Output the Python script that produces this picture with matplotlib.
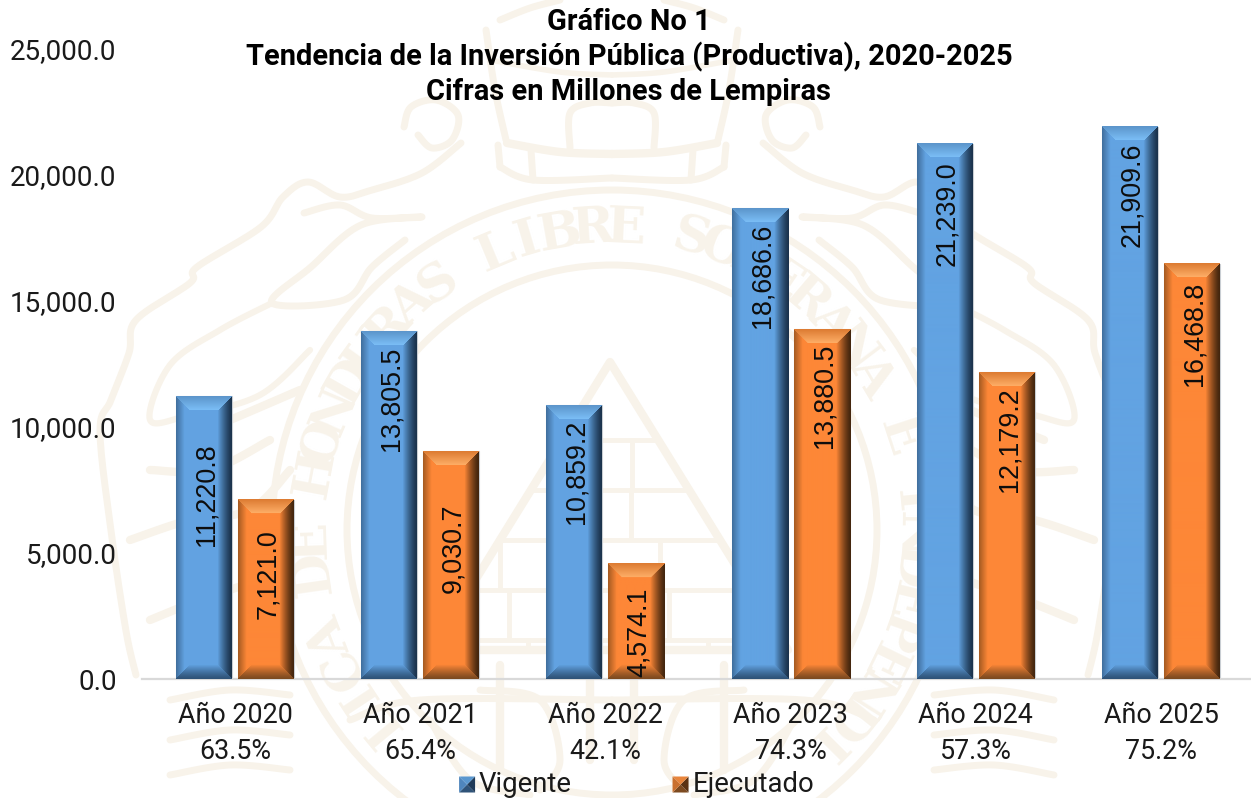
import numpy as np
import matplotlib
matplotlib.use("Agg")
import matplotlib.pyplot as plt
from matplotlib.patches import Polygon, Patch, Circle
from matplotlib.legend_handler import HandlerBase

W, H = 1251, 798
categories = ["Año 2020", "Año 2021", "Año 2022", "Año 2023", "Año 2024", "Año 2025"]
percentages = ["63.5%", "65.4%", "42.1%", "74.3%", "57.3%", "75.2%"]
vigente = [11220.8, 13805.5, 10859.2, 18686.6, 21239.0, 21909.6]
ejecutado = [7121.0, 9030.7, 4574.1, 13880.5, 12179.2, 16468.8]
series_names = ["Vigente", "Ejecutado"]
yticks = [0, 5000, 10000, 15000, 20000, 25000]
title_lines = ["Gráfico No 1", "Tendencia de la Inversión Pública (Productiva), 2020-2025",
               "Cifras en Millones de Lempiras"]
# distance in px from bar top to label centre
vig_label_drop = [98.5, 67.5, 66, 67.5, 69.5, 68]
eje_label_drop = [74.5, 96.5, 68.5, 67, 68, 69.5]

CREAM = "#f8f3ea"
UI = "Roboto"
fig = plt.figure(figsize=(W / 100, H / 100), dpi=100, facecolor="white")

# ---- faint watermark emblem -------------------------------------------------
bg = fig.add_axes([0, 0, 1, 1], zorder=0)
bg.set_xlim(0, W); bg.set_ylim(H, 0); bg.axis("off")
cx, cy = 612, 530


def smooth(pts, n=14):
    p = np.array(pts, float)
    p = np.vstack([p[0], p, p[-1]])
    out = []
    for i in range(1, len(p) - 2):
        for t in np.linspace(0, 1, n, endpoint=False):
            out.append(0.5 * (2 * p[i] + (p[i + 1] - p[i - 1]) * t
                              + (2 * p[i - 1] - 5 * p[i] + 4 * p[i + 1] - p[i + 2]) * t ** 2
                              + (3 * p[i] - p[i - 1] - 3 * p[i + 1] + p[i + 2]) * t ** 3))
    out.append(p[-2])
    return np.array(out)


def curve(pts, lw=4, mirror=True):
    s = smooth(pts)
    bg.plot(s[:, 0], s[:, 1], color=CREAM, lw=lw, solid_capstyle="round")
    if mirror:
        bg.plot(2 * 612 - s[:, 0], s[:, 1], color=CREAM, lw=lw, solid_capstyle="round")


for r, lw in [(340, 5), (265, 5)]:
    bg.add_patch(Circle((cx, cy), r, fill=False, ec=CREAM, lw=lw))
ring = "REPUBLICA DE HONDURAS LIBRE SOBERANA E INDEPENDIENTE"
for i, ch in enumerate(ring):
    a = -10 + (i - 24) * 6.3
    t = np.radians(a)
    px, py = cx + 301 * np.sin(t), cy - 301 * np.cos(t)
    if py < 745:
        bg.text(px, py, ch, rotation=-a, ha="center", va="center", fontsize=37,
                family="DejaVu Serif", weight="bold", color=CREAM, rotation_mode="anchor")

# pyramid with bricks
tri = Polygon([(610, 362), (432, 650), (788, 650)], fill=False, ec=CREAM, lw=6, joinstyle="round")
bg.add_patch(tri)
for yy, step, shift in [(440, 70, 0), (490, 70, 30), (540, 80, 0), (590, 80, 40), (640, 90, 0)]:
    half = (yy - 362) * 178 / 288
    bg.plot([610 - half, 610 + half], [yy, yy], color=CREAM, lw=3.5)
    for xx in np.arange(610 - half + shift, 610 + half, step):
        bg.plot([xx, xx], [yy, yy + 48], color=CREAM, lw=3.5, clip_path=tri)

# ribbons and cornucopias (left, mirrored to the right)
curve([(461, 143), (422, 173), (372, 190), (340, 197), (308, 182), (283, 197), (261, 227), (197, 267),
       (190, 283), (136, 320), (129, 353), (111, 400), (100, 431), (111, 531), (126, 631), (136, 675)], lw=5)
curve([(304, 213), (340, 205), (372, 218), (422, 217), (361, 225), (311, 267), (272, 303), (344, 300),
       (372, 267), (405, 240)], lw=5)
curve([(272, 303), (220, 330), (170, 365), (150, 420), (190, 415), (260, 395), (310, 350)], lw=4.5)
curve([(180, 440), (230, 420), (300, 390)], lw=6)
curve([(150, 470), (210, 470), (270, 440)], lw=6)
curve([(130, 540), (190, 520), (250, 510), (290, 470)], lw=6)
curve([(150, 620), (200, 600), (260, 580)], lw=6)
curve([(404, 127), (411, 107), (436, 100), (458, 115), (452, 140), (432, 148), (418, 135)], lw=5)
curve([(486, 30), (495, 90), (506, 140)], lw=5)
curve([(490, 60), (560, 72), (612, 75)], lw=4)
curve([(507, 143), (560, 152), (612, 154)], lw=6)
curve([(500, 167), (533, 180), (612, 178)], lw=5)
curve([(500, 167), (498, 145)], lw=5)
curve([(533, 180), (531, 150)], lw=5)
curve([(570, 148), (570, 113), (590, 103), (612, 103)], lw=5)
curve([(500, 20), (530, 8), (560, 0)], lw=5)
for y0 in (700, 740, 775):
    curve([(170, y0), (230, y0 - 10), (290, y0 - 5)], lw=5)
curve([(480, 690), (540, 700), (560, 760), (540, 790)], lw=5)
curve([(430, 720), (470, 780), (530, 795)], lw=5)
curve([(350, 720), (420, 700), (612, 700)], lw=5)
curve([(500, 665), (500, 770)], lw=6)
curve([(590, 670), (590, 760)], lw=6)

# ---- main chart -------------------------------------------------------------
cat_px = 185.2
left_px, base_px, top_px = 142.4, 679, 49
ax = fig.add_axes([left_px / W, 1 - base_px / H, (W - left_px) / W, (base_px - top_px) / H], zorder=1)
ax.patch.set_alpha(0)
xmax = (W - left_px) / cat_px - 0.5
x = np.arange(len(categories))
bw = 56 / cat_px
off = 31 / cat_px


def bevel_image(w, h, face, light, edge_l, dark_r, dark_b, top_a, b=14):
    """RGB per-pixel bevelled bar."""
    face, light, edge_l, dark_r, dark_b, top_a = [np.array(matplotlib.colors.to_rgb(c))
                                                  for c in (face, light, edge_l, dark_r, dark_b, top_a)]
    img = np.tile(face, (h, w, 1))
    for r in range(h):
        for c in range(w):
            dt, db, dl, dr = r, h - 1 - r, c, w - 1 - c
            d = min(dt, db, dl, dr)
            if d >= b:
                continue
            m = d / b
            if d == dt:
                img[r, c] = top_a + (light - top_a) * m
            elif d == db:
                img[r, c] = dark_b + (face - dark_b) * m ** 1.2
            elif d == dl:
                img[r, c] = edge_l + (face - edge_l) * min(1, m * 1.7)
            else:
                img[r, c] = dark_r + (face - dark_r) * m ** 1.3
    return img


BLUE = dict(face="#62a3e2", light="#7cc0f8", edge_l="#41709f", dark_r="#1b334d", dark_b="#2f5378", top_a="#5c95cb")
ORANGE = dict(face="#fd8737", light="#ffb069", edge_l="#a85c22", dark_r="#44260e", dark_b="#7d4a20", top_a="#dd7c33")

for vals, sign, sty in ((vigente, -1, BLUE), (ejecutado, 1, ORANGE)):
    ax.bar(x + sign * off, vals, bw, color=sty["face"], zorder=2, edgecolor="#c9ced3", linewidth=0.8)
    for xi, v in zip(x, vals):
        xc = xi + sign * off
        hpx = int(round(v / 25000 * (base_px - top_px)))
        ax.imshow(bevel_image(56, hpx, **sty), extent=(xc - bw / 2, xc + bw / 2, 0, v),
                  aspect="auto", zorder=3, interpolation="bilinear")

ypp = 25000 / (base_px - top_px)
for vals, drops, sign in ((vigente, vig_label_drop, -1), (ejecutado, eje_label_drop, 1)):
    for xi, v, d in zip(x, vals, drops):
        ax.text(xi + sign * off + 2.5 / cat_px, v - d * ypp, f"{v:,.1f}", rotation=90, ha="center", va="center",
                fontsize=19.4, family="Liberation Sans", color="#0d0d0d", zorder=5, clip_on=False)

ax.set_xlim(-0.5, xmax)
ax.set_ylim(0, 25000)
ax.set_yticks(yticks)
ax.set_yticklabels([f"{v:,.1f}" for v in yticks], family=UI, fontsize=20, color="#1a1a1a")
ax.set_xticks(x)
ax.set_xticklabels([f"{c}\n{p}" for c, p in zip(categories, percentages)],
                   family=UI, fontsize=19.4, color="#1a1a1a", linespacing=1.43)
ax.tick_params(axis="both", length=0)
ax.tick_params(axis="y", pad=18.5)
ax.tick_params(axis="x", pad=16.5)
for s in ("top", "left", "right"):
    ax.spines[s].set_visible(False)
ax.spines["bottom"].set_color("#d9d9d9")
ax.spines["bottom"].set_linewidth(1.6)

for line, py in zip(title_lines, (21.5, 56.5, 91.5)):
    fig.text(629 / W, 1 - py / H, line, ha="center", va="center", family=UI, weight="bold",
             fontsize=20.85, color="black", zorder=6)


class PyramidHandler(HandlerBase):
    def create_artists(self, legend, orig, xd, yd, width, height, fontsize, trans):
        cols = orig.cols
        s = 16 * 0.72
        x0, y0 = width - s, -yd
        c = (x0 + s / 2, y0 + s / 2)
        pts = [(x0, y0), (x0 + s, y0), (x0 + s, y0 + s), (x0, y0 + s)]
        return [Polygon([pts[i], pts[(i + 1) % 4], c], fc=col, ec="none", transform=trans)
                for i, col in enumerate(cols)]


h1 = Patch(label=series_names[0]); h1.cols = ["#2f5378", "#1f3a57", "#5a97cf", "#4f86bd"]
h2 = Patch(label=series_names[1]); h2.cols = ["#7d4a20", "#5b3213", "#e8853c", "#c9702f"]
leg = fig.legend(handles=[h1, h2], handler_map={Patch: PyramidHandler()}, ncol=2, frameon=False,
                 loc="center", bbox_to_anchor=(636.5 / W, 1 - 785 / H), prop={"family": UI, "size": 19.8},
                 handlelength=0.59, handletextpad=0.14, columnspacing=3.65, labelcolor="#1a1a1a",
                 borderpad=0, borderaxespad=0)
leg.set_zorder(6)

fig.savefig("out.png", dpi=100)
